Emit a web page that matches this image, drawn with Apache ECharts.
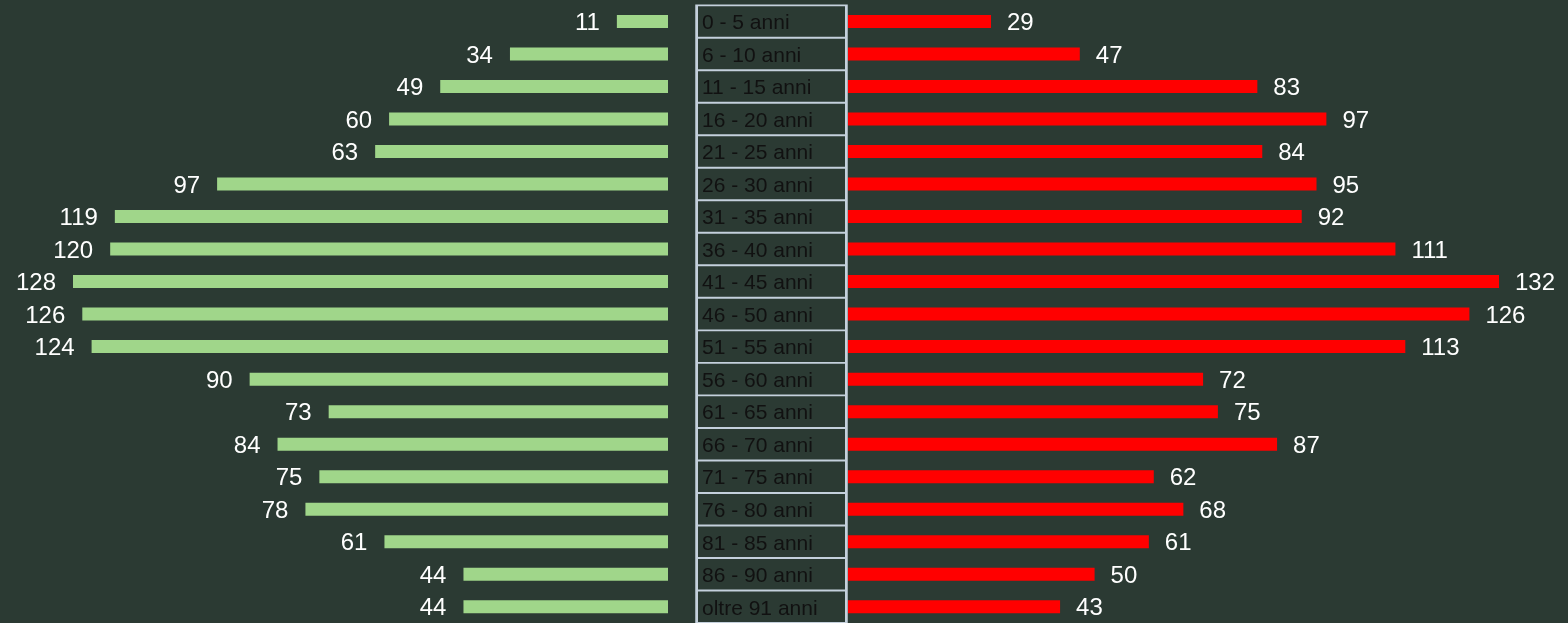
<!DOCTYPE html>
<html><head><meta charset="utf-8">
<script src="https://cdn.jsdelivr.net/npm/echarts@6/dist/echarts.min.js"></script>
<style>html,body{margin:0;padding:0;background:#2b3a33;}#c{width:1568px;height:623px;}</style>
</head><body><div id="c"></div>
<script>
const categories = ["0 - 5 anni","6 - 10 anni","11 - 15 anni","16 - 20 anni","21 - 25 anni","26 - 30 anni","31 - 35 anni","36 - 40 anni","41 - 45 anni","46 - 50 anni","51 - 55 anni","56 - 60 anni","61 - 65 anni","66 - 70 anni","71 - 75 anni","76 - 80 anni","81 - 85 anni","86 - 90 anni","oltre 91 anni"];
const leftValues = [11,34,49,60,63,97,119,120,128,126,124,90,73,84,75,78,61,44,44];
const rightValues = [29,47,83,97,84,95,92,111,132,126,113,72,75,87,62,68,61,50,43];
const boxValues = categories.map(() => 1);

const chart = echarts.init(document.getElementById('c'), null, {renderer:'canvas'});
const gridTop = 5.2, gridH = 621.5;
const yBase = {type:'category', data:categories, inverse:true, axisLine:{show:false}, axisTick:{show:false}, axisLabel:{show:false}, splitLine:{show:false}};
const xBase = {type:'value', min:0, axisLine:{show:false}, axisTick:{show:false}, axisLabel:{show:false}, splitLine:{show:false}};
const edge = 2/147;
chart.setOption({
  backgroundColor:'#2b3a33',
  animation:false,
  grid:[
    {left:73, width:595, top:gridTop, height:gridH},
    {left:696, width:151, top:gridTop, height:gridH, show:true, backgroundColor:'#c4d0dc', borderColor:'#c4d0dc', borderWidth:1.5},
    {left:848, width:651, top:gridTop, height:gridH}
  ],
  xAxis:[
    Object.assign({}, xBase, {gridIndex:0, max:128, inverse:true}),
    Object.assign({}, xBase, {gridIndex:1, min:-edge, max:1+edge}),
    Object.assign({}, xBase, {gridIndex:2, max:132})
  ],
  yAxis:[
    Object.assign({}, yBase, {gridIndex:0}),
    Object.assign({}, yBase, {gridIndex:1}),
    Object.assign({}, yBase, {gridIndex:2})
  ],
  series:[
    {type:'bar', xAxisIndex:0, yAxisIndex:0, data:leftValues, barWidth:13,
     itemStyle:{color:'#a0d68a'},
     label:{show:true, position:'left', distance:17, offset:[0,2], color:'#ffffff', fontSize:24, fontFamily:'Liberation Sans, Arial, sans-serif'}},
    {type:'bar', xAxisIndex:1, yAxisIndex:1, data:boxValues, barCategoryGap:'6%',
     itemStyle:{color:'#2b3a33', borderWidth:0},
     label:{show:true, position:'insideLeft', distance:4, offset:[0,2], color:'#111111', fontSize:21,
       fontFamily:'Liberation Sans, Arial, sans-serif',
       formatter:(p)=>categories[p.dataIndex]}},
    {type:'bar', xAxisIndex:2, yAxisIndex:2, data:rightValues, barWidth:13,
     itemStyle:{color:'#ff0000'},
     label:{show:true, position:'right', distance:16, offset:[0,2], color:'#ffffff', fontSize:24, fontFamily:'Liberation Sans, Arial, sans-serif'}}
  ]
});
</script></body></html>
